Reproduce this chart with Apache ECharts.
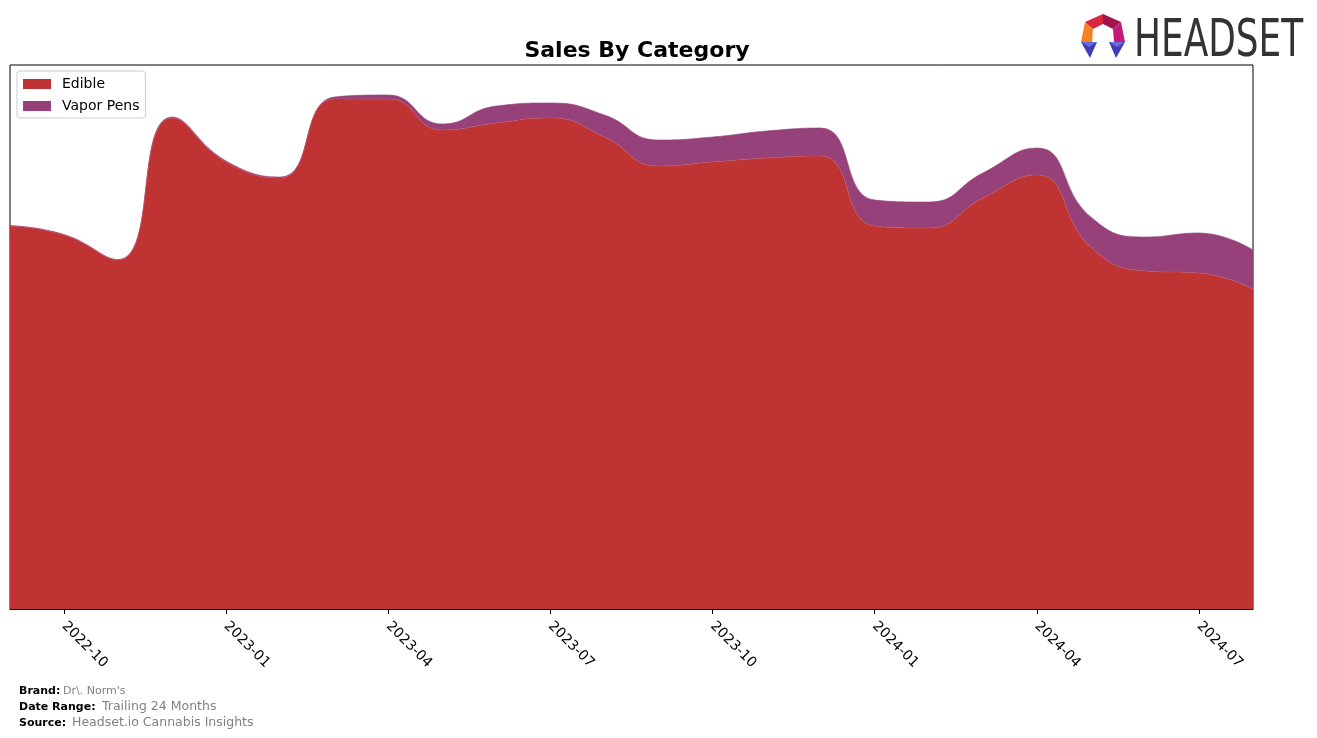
<!DOCTYPE html>
<html>
<head>
<meta charset="utf-8">
<script src="https://cdn.jsdelivr.net/npm/echarts@6/dist/echarts.min.js"></script>
<style>
html,body{margin:0;padding:0;background:#fff;}
#chart{width:1317px;height:738px;}
</style>
</head>
<body>
<div id="chart"></div>
<script>
const months = ['2022-09','2022-10','2022-11','2022-12','2023-01','2023-02','2023-03','2023-04','2023-05','2023-06','2023-07','2023-08','2023-09','2023-10','2023-11','2023-12','2024-01','2024-02','2024-03','2024-04','2024-05','2024-06','2024-07','2024-08'];
const edible = [383,374,349,491,447,431,510,510,479,486,491,472,443,447,451,453,383,381,411,434,362,338,336,320];
const vaporPens = [0.5,0.5,0.5,1,1,1,2,4,6,17,15,22,26,25,27,28,26,26,25,27,30,34,40,39];
const tickLabels = ['2022-10','2023-01','2023-04','2023-07','2023-10','2024-01','2024-04','2024-07'];

const FONT = 'DejaVu Sans';
const RED = '#c03333';
const PURPLE = '#96417a';

const chart = echarts.init(document.getElementById('chart'), null, {renderer:'canvas'});
const showTick = (i) => tickLabels.indexOf(months[i]) >= 0;

chart.setOption({
  animation: false,
  backgroundColor: '#fff',
  title: {
    text: 'Sales By Category',
    left: 632, top: 35, textAlign: 'center',
    textStyle: {fontFamily: FONT, fontSize: 22, fontWeight: 'bold', color: '#000'}
  },
  legend: {
    orient: 'vertical', left: 17, top: 71,
    data: [{name:'Edible', itemStyle:{color:RED}}, {name:'Vapor Pens', itemStyle:{color:PURPLE}}],
    icon: 'rect', itemWidth: 28, itemHeight: 10, itemGap: 8,
    padding: [6, 6, 5, 6],
    backgroundColor: '#fff', borderColor: '#cccccc', borderWidth: 1, borderRadius: 3,
    textStyle: {fontFamily: FONT, fontSize: 14, color: '#000', padding: [0, 0, 0, 6]}
  },
  grid: {left: 10, right: 64, top: 65, bottom: 129, show: true, borderColor: '#000', borderWidth: 1, backgroundColor: 'transparent'},
  xAxis: {
    type: 'category', data: months, boundaryGap: false,
    axisLine: {lineStyle: {color: '#000', width: 1}},
    axisTick: {show: true, interval: (i) => showTick(i), length: 5, lineStyle: {color: '#000'}},
    axisLabel: {interval: (i) => showTick(i), rotate: -45, fontFamily: FONT, fontSize: 14, color: '#000', margin: 15},
    splitLine: {show: false}
  },
  yAxis: {
    type: 'value', min: 0, max: 544,
    axisLine: {show: false}, axisTick: {show: false}, axisLabel: {show: false}, splitLine: {show: false}
  },
  series: [
    {name: 'Edible', type: 'line', stack: 'total', data: edible, smooth: 0.5, symbol: 'none',
     lineStyle: {width: 0.6, color: '#b8546a'}, itemStyle: {color: RED}, areaStyle: {color: RED, opacity: 1}, z: 2},
    {name: 'Vapor Pens', type: 'line', stack: 'total', data: vaporPens, smooth: 0.5, symbol: 'none',
     lineStyle: {width: 0.6, color: PURPLE}, itemStyle: {color: PURPLE}, areaStyle: {color: PURPLE, opacity: 1}, z: 1}
  ],
  graphic: [
    {type:'text', left: 19, top: 686, style:{text:'Brand:', font:'bold 11px "DejaVu Sans"', fill:'#000'}},
    {type:'text', left: 63, top: 686, style:{text:"Dr\\. Norm's", font:'11px "DejaVu Sans"', fill:'#808080'}},
    {type:'text', left: 19, top: 702, style:{text:'Date Range:', font:'bold 11px "DejaVu Sans"', fill:'#000'}},
    {type:'text', left: 102, top: 700, style:{text:'Trailing 24 Months', font:'12.5px "DejaVu Sans"', fill:'#808080'}},
    {type:'text', left: 19, top: 718, style:{text:'Source:', font:'bold 11px "DejaVu Sans"', fill:'#000'}},
    {type:'text', left: 72, top: 716, style:{text:'Headset.io Cannabis Insights', font:'12.5px "DejaVu Sans"', fill:'#808080'}},
    {type:'group', children: [
      {type:'polygon', shape:{points:[[1085,22],[1103,14],[1103,24],[1093,29]]}, style:{fill:'#d9263f'}},
      {type:'polygon', shape:{points:[[1103,14],[1121,22],[1113,29],[1103,24]]}, style:{fill:'#a3154a'}},
      {type:'polygon', shape:{points:[[1121,22],[1125,42],[1114,42],[1113,29]]}, style:{fill:'#c21a7a'}},
      {type:'polygon', shape:{points:[[1085,22],[1093,29],[1092,42],[1081,42]]}, style:{fill:'#f58220'}},
      {type:'polygon', shape:{points:[[1081,42],[1097,42],[1090,58]]}, style:{fill:'#3d3db5'}},
      {type:'polygon', shape:{points:[[1109,42],[1125,42],[1116,58]]}, style:{fill:'#3d3db5'}},
      {type:'polygon', shape:{points:[[1081,42],[1097,42],[1089,47]]}, style:{fill:'#6a6ae0'}},
      {type:'polygon', shape:{points:[[1109,42],[1125,42],[1117,47]]}, style:{fill:'#6a6ae0'}}
    ]},
    {type:'text', x: 1134, y: 16, scaleX: 0.69, style:{text:'HEADSET', font:'52px "DejaVu Sans"', fill:'#333333'}}
  ]
});
</script>
</body>
</html>
